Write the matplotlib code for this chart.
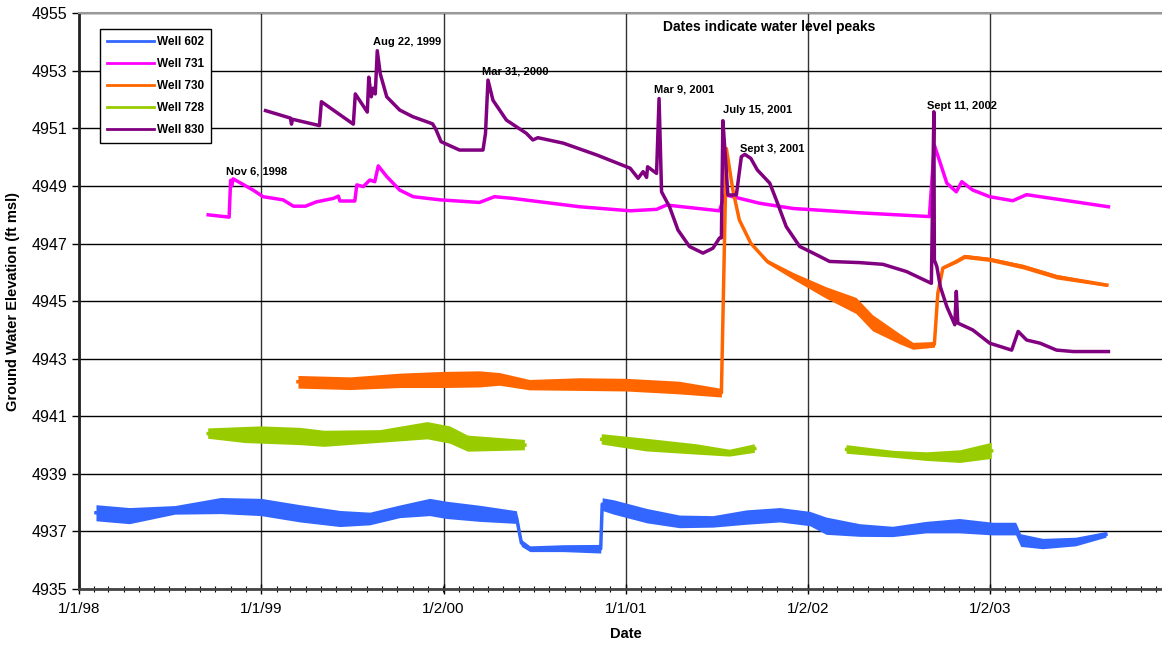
import numpy as np
import pandas as pd
import matplotlib
matplotlib.use("Agg")
import matplotlib.pyplot as plt
import matplotlib.dates as mdates

plt.rcParams['font.family'] = ['Liberation Sans', 'DejaVu Sans']

# --- data (date, elevation, half-width of the noise band) ---
w602_dates = ['1998-02-04', '1998-04-12', '1998-07-12', '1998-10-12', '1999-01-01', '1999-03-20',
              '1999-06-08', '1999-08-07', '1999-10-06', '1999-12-05', '2000-01-08', '2000-03-14',
              '2000-05-27', '2000-06-06', '2000-06-23', '2000-08-29', '2000-11-12', '2000-11-15',
              '2000-12-08', '2001-02-12', '2001-04-19', '2001-06-25', '2001-08-31', '2001-11-06',
              '2002-01-05', '2002-02-07', '2002-04-15', '2002-06-20', '2002-08-26', '2002-11-01',
              '2003-01-07', '2003-02-22', '2003-03-04', '2003-04-17', '2003-06-22', '2003-08-22']
w602_vals = [4937.65, 4937.55, 4937.75, 4937.9, 4937.85, 4937.63,
             4937.45, 4937.45, 4937.7, 4937.85, 4937.75, 4937.63,
             4937.5, 4936.6, 4936.4, 4936.42, 4936.4, 4937.95,
             4937.85, 4937.55, 4937.35, 4937.35, 4937.5, 4937.58,
             4937.45, 4937.2, 4937.05, 4937.0, 4937.15, 4937.2,
             4937.1, 4937.1, 4936.7, 4936.58, 4936.65, 4936.9]
w602_band = [0.28, 0.28, 0.15, 0.28, 0.3, 0.3,
             0.28, 0.22, 0.22, 0.3, 0.3, 0.28,
             0.22, 0.12, 0.1, 0.12, 0.15, 0.22,
             0.25, 0.25, 0.22, 0.2, 0.25, 0.25,
             0.25, 0.3, 0.22, 0.18, 0.2, 0.25,
             0.22, 0.22, 0.22, 0.18, 0.15, 0.1]

w731_dates = ['1998-09-17', '1998-10-29', '1998-11-01', '1998-11-03', '1998-11-06', '1998-12-16',
              '1999-01-05', '1999-02-14', '1999-03-07', '1999-03-31', '1999-04-22', '1999-05-26',
              '1999-06-05', '1999-06-08', '1999-07-08', '1999-07-12', '1999-07-25', '1999-08-07',
              '1999-08-17', '1999-08-24', '1999-09-10', '1999-10-06', '1999-11-02', '1999-12-26',
              '2000-03-14', '2000-04-13', '2000-05-20', '2000-10-01', '2001-01-10', '2001-03-04',
              '2001-03-24', '2001-07-08', '2001-07-19', '2001-08-04', '2001-09-27', '2001-12-03',
              '2002-04-15', '2002-09-02', '2002-09-12', '2002-09-24', '2002-10-07', '2002-10-26',
              '2002-11-06', '2002-11-28', '2003-01-01', '2003-02-16', '2003-03-16', '2003-04-12',
              '2003-06-18', '2003-08-27']
w731_vals = [4948.0, 4947.92, 4949.2, 4949.0, 4949.25, 4948.86,
             4948.63, 4948.52, 4948.3, 4948.3, 4948.45, 4948.57,
             4948.65, 4948.48, 4948.48, 4949.04, 4948.98, 4949.21,
             4949.15, 4949.7, 4949.33, 4948.86, 4948.63, 4948.52,
             4948.43, 4948.63, 4948.57, 4948.28, 4948.14, 4948.19,
             4948.34, 4948.14, 4948.7, 4948.63, 4948.4, 4948.22,
             4948.07, 4947.94, 4950.42, 4949.79, 4949.1, 4948.8,
             4949.15, 4948.86, 4948.63, 4948.49, 4948.7, 4948.63,
             4948.46, 4948.28]

w730_dates = ['1999-03-16', '1999-06-29', '1999-10-06', '2000-01-01', '2000-03-14', '2000-04-23',
              '2000-06-22', '2000-10-01', '2001-01-01', '2001-04-18', '2001-07-12', '2001-07-22',
              '2001-08-04', '2001-08-17', '2001-09-09', '2001-10-12', '2001-12-05', '2002-02-07',
              '2002-04-08', '2002-05-11', '2002-07-04', '2002-07-31', '2002-09-12', '2002-09-19',
              '2002-09-29', '2002-10-26', '2002-11-12', '2003-01-01', '2003-03-09', '2003-05-15',
              '2003-08-24']
w730_vals = [4942.2, 4942.15, 4942.25, 4942.28, 4942.3, 4942.3,
             4942.1, 4942.12, 4942.1, 4942.0, 4941.82, 4950.3,
             4948.86, 4947.82, 4947.01, 4946.38, 4945.86, 4945.3,
             4944.85, 4944.25, 4943.7, 4943.45, 4943.5, 4945.28,
             4946.15, 4946.38, 4946.55, 4946.45, 4946.2, 4945.85,
             4945.56]
w730_band = [0.22, 0.22, 0.25, 0.28, 0.28, 0.22,
             0.18, 0.22, 0.22, 0.22, 0.15, 0.0,
             0.0, 0.03, 0.04, 0.07, 0.12, 0.2,
             0.28, 0.28, 0.18, 0.12, 0.1, 0.0,
             0.04, 0.06, 0.07, 0.07, 0.08, 0.08,
             0.05]

w728_dates = ['1998-09-17', '1998-12-01', '1999-01-01', '1999-03-20', '1999-05-08', '1999-08-28',
              '1999-12-01', '2000-01-15', '2000-02-20', '2000-06-13', '2000-06-14',
              '2000-11-14', '2001-02-12', '2001-05-23', '2001-07-29', '2001-09-17', '2001-09-18',
              '2002-03-20', '2002-06-22', '2002-08-28', '2002-11-03', '2003-01-05']
w728_vals = [4940.4, 4940.35, 4940.35, 4940.3, 4940.22, 4940.3,
             4940.5, 4940.35, 4940.05, 4940.0, np.nan,
             4940.2, 4940.0, 4939.85, 4939.72, 4939.88, np.nan,
             4939.85, 4939.68, 4939.6, 4939.6, 4939.8]
w728_band = [0.18, 0.28, 0.3, 0.3, 0.28, 0.22,
             0.3, 0.3, 0.28, 0.18, 0.0,
             0.18, 0.22, 0.18, 0.12, 0.15, 0.0,
             0.15, 0.12, 0.15, 0.22, 0.28]

w830_dates = ['1999-01-10', '1999-03-01', '1999-03-03', '1999-03-05', '1999-04-28', '1999-05-02',
              '1999-07-05', '1999-07-09', '1999-08-02', '1999-08-05', '1999-08-10', '1999-08-14',
              '1999-08-18', '1999-08-22', '1999-08-28', '1999-09-10', '1999-10-06', '1999-11-01',
              '1999-12-11', '1999-12-18', '1999-12-28', '2000-02-03', '2000-03-21', '2000-03-26',
              '2000-03-31', '2000-04-10', '2000-05-07', '2000-06-16', '2000-06-29', '2000-07-09',
              '2000-08-29', '2000-11-04', '2001-01-10', '2001-01-26', '2001-02-05', '2001-02-12',
              '2001-02-14', '2001-03-04', '2001-03-09', '2001-03-14', '2001-03-30', '2001-04-16',
              '2001-05-09', '2001-06-05', '2001-06-25', '2001-07-08', '2001-07-12', '2001-07-15',
              '2001-07-19', '2001-07-25', '2001-08-11', '2001-08-21', '2001-08-28', '2001-09-09',
              '2001-09-22', '2001-10-17', '2001-10-30', '2001-11-19', '2001-12-16', '2002-01-12',
              '2002-02-14', '2002-04-15', '2002-06-01', '2002-07-18', '2002-09-06', '2002-09-11',
              '2002-09-12', '2002-09-17', '2002-09-24', '2002-10-07', '2002-10-23', '2002-10-26',
              '2002-10-29', '2002-11-28', '2003-01-01', '2003-02-14', '2003-02-27', '2003-03-16',
              '2003-04-12', '2003-05-15', '2003-06-18', '2003-08-27']
w830_vals = [4951.62, 4951.36, 4951.15, 4951.32, 4951.1, 4951.93,
             4951.15, 4952.2, 4951.57, 4952.78, 4952.1, 4952.4,
             4952.2, 4953.7, 4952.9, 4952.1, 4951.64, 4951.41,
             4951.16, 4950.95, 4950.54, 4950.25, 4950.25, 4950.83,
             4952.68, 4951.98, 4951.29, 4950.83, 4950.6, 4950.68,
             4950.49, 4950.08, 4949.62, 4949.27, 4949.5, 4949.3,
             4949.67, 4949.44, 4952.04, 4948.8, 4948.28, 4947.47,
             4946.9, 4946.67, 4946.84, 4947.19, 4947.2, 4951.27,
             4950.25, 4948.69, 4948.69, 4950.02, 4950.1, 4949.96,
             4949.56, 4949.1, 4948.52, 4947.59, 4946.9, 4946.67,
             4946.38, 4946.34, 4946.28, 4946.03, 4945.62, 4951.58,
             4946.43, 4946.2, 4945.5, 4944.81, 4944.18, 4945.34,
             4944.24, 4944.0, 4943.54, 4943.3, 4943.95, 4943.65,
             4943.54, 4943.3, 4943.25, 4943.25]

peak_labels = [('Nov 6, 1998', '1998-10-23', 4949.52),
               ('Aug 22, 1999', '1999-08-13', 4954.0),
               ('Mar 31, 2000', '2000-03-18', 4952.97),
               ('Mar 9, 2001', '2001-02-27', 4952.37),
               ('July 15, 2001', '2001-07-16', 4951.64),
               ('Sept 3, 2001', '2001-08-18', 4950.29),
               ('Sept 11, 2002', '2002-08-29', 4951.79)]

major_dates = ['1998-01-01', '1999-01-01', '2000-01-02', '2001-01-01', '2002-01-02', '2003-01-02']
major_labels = ['1/1/98', '1/1/99', '1/2/00', '1/1/01', '1/2/02', '1/2/03']

colors = {'Well 602': '#3366FF', 'Well 731': '#FF00FF', 'Well 730': '#FF6600',
          'Well 728': '#99CC00', 'Well 830': '#800080'}

fig = plt.figure(figsize=(11.62, 6.47), dpi=100)
ax = fig.add_axes([0.068, 0.0896, 0.9404, 0.8898])

def draw(name, dates, vals, band=None):
    d = pd.to_datetime(dates)
    v = np.array(vals, dtype=float)
    c = colors[name]
    if band is not None:
        b = np.array(band)
        ok = ~np.isnan(v)
        ax.fill_between(d, v - b, v + b, where=ok, color=c, lw=0, zorder=3)
    ax.plot(d, v, color=c, lw=2.5, label=name, zorder=4, solid_joinstyle='round')

draw('Well 602', w602_dates, w602_vals, w602_band)
draw('Well 731', w731_dates, w731_vals)
draw('Well 730', w730_dates, w730_vals, w730_band)
draw('Well 728', w728_dates, w728_vals, w728_band)
draw('Well 830', w830_dates, w830_vals)

for txt, d, v in peak_labels:
    ax.text(pd.Timestamp(d), v, txt, fontsize=8, fontweight='bold', va='center', ha='left', zorder=6)

ax.text(0.632, 0.977, 'Dates indicate water level peaks', transform=ax.transAxes,
        fontsize=10, fontweight='bold', ha='center', va='center')

ax.set_xlim(pd.Timestamp('1998-01-01'), pd.Timestamp('2004-01-01'))
ax.set_ylim(4935, 4955)
ax.set_yticks(np.arange(4935, 4956, 2))
ax.set_xticks([mdates.date2num(pd.Timestamp(d)) for d in major_dates])
ax.set_xticklabels(major_labels)
ax.xaxis.set_minor_locator(mdates.MonthLocator())
ax.tick_params(axis='x', which='major', length=7, width=1, direction='inout', labelsize=11, pad=6)
ax.tick_params(axis='x', which='minor', length=5, width=0.8, direction='inout')
ax.tick_params(axis='y', length=5, width=1, direction='out', labelsize=11.5)

ax.grid(axis='y', color='black', lw=1)
ax.grid(axis='x', which='major', color='#333333', lw=1)
ax.set_axisbelow(True)

ax.spines['left'].set_linewidth(2)
ax.spines['left'].set_color('#222222')
ax.spines['bottom'].set_linewidth(2)
ax.spines['bottom'].set_color('#444444')
ax.spines['top'].set_color('#999999')
ax.spines['top'].set_linewidth(1.5)

ax.set_xlabel('Date', fontsize=10.5, fontweight='bold', labelpad=8)
ax.set_ylabel('Ground Water Elevation (ft msl)', fontsize=10.5, fontweight='bold', labelpad=8)

leg = ax.legend(loc='upper left', bbox_to_anchor=(0.0192, 0.973), borderaxespad=0, fontsize=8.5,
                frameon=True, fancybox=False, edgecolor='black', framealpha=1, handlelength=4.0,
                borderpad=0.6, labelspacing=0.85, handletextpad=0.25)
leg.get_frame().set_linewidth(1)
for t in leg.get_texts():
    t.set_fontweight('bold')
for h in leg.get_lines():
    h.set_linewidth(2)

fig.savefig('out.png', dpi=100)
